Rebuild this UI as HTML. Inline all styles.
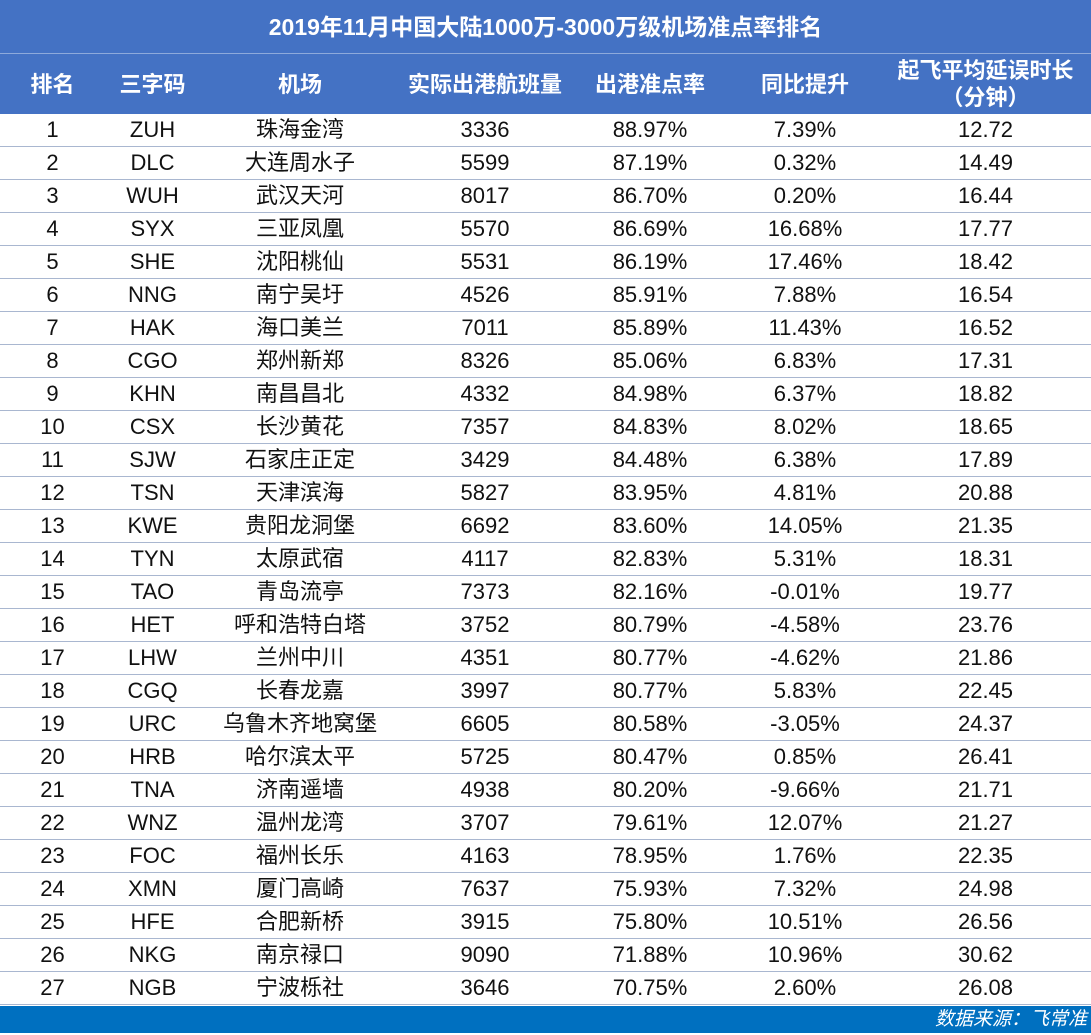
<!DOCTYPE html><html><head><meta charset="utf-8"><style>
body{margin:0;width:1091px;height:1035px;background:#fff;font-family:"Liberation Sans","Noto Sans CJK SC",sans-serif;overflow:hidden}
.t{position:absolute;left:0;top:0;width:1091px;height:54px;background:#4472c4;color:#fff;font-weight:bold;font-size:23px;text-align:center;line-height:54px;border-bottom:1px solid #8eaadb;box-sizing:border-box}
table{position:absolute;left:0;top:54px;width:1091px;border-collapse:collapse;table-layout:fixed}
th{background:#4472c4;color:#fff;font-size:22px;font-weight:bold;height:60px;padding:0;line-height:27px}
td{height:32px;padding:0;text-align:center;font-size:22px;color:#111;border-bottom:1px solid #a9b7d0;line-height:32px}
.f{position:absolute;left:0;top:1006px;width:1091px;height:27px;background:#0070c0;color:#fff;font-style:italic;font-size:19px;text-align:right;line-height:27px;box-sizing:border-box;padding-right:4px}
</style></head><body>
<div class="t">2019年11月中国大陆1000万-3000万级机场准点率排名</div>
<table><colgroup><col style="width:105px"><col style="width:95px"><col style="width:200px"><col style="width:170px"><col style="width:160px"><col style="width:150px"><col style="width:211px"></colgroup>
<tr><th>排名</th><th>三字码</th><th>机场</th><th>实际出港航班量</th><th>出港准点率</th><th>同比提升</th><th>起飞平均延误时长<br>（分钟）</th></tr>
<tr><td>1</td><td>ZUH</td><td>珠海金湾</td><td>3336</td><td>88.97%</td><td>7.39%</td><td>12.72</td></tr>
<tr><td>2</td><td>DLC</td><td>大连周水子</td><td>5599</td><td>87.19%</td><td>0.32%</td><td>14.49</td></tr>
<tr><td>3</td><td>WUH</td><td>武汉天河</td><td>8017</td><td>86.70%</td><td>0.20%</td><td>16.44</td></tr>
<tr><td>4</td><td>SYX</td><td>三亚凤凰</td><td>5570</td><td>86.69%</td><td>16.68%</td><td>17.77</td></tr>
<tr><td>5</td><td>SHE</td><td>沈阳桃仙</td><td>5531</td><td>86.19%</td><td>17.46%</td><td>18.42</td></tr>
<tr><td>6</td><td>NNG</td><td>南宁吴圩</td><td>4526</td><td>85.91%</td><td>7.88%</td><td>16.54</td></tr>
<tr><td>7</td><td>HAK</td><td>海口美兰</td><td>7011</td><td>85.89%</td><td>11.43%</td><td>16.52</td></tr>
<tr><td>8</td><td>CGO</td><td>郑州新郑</td><td>8326</td><td>85.06%</td><td>6.83%</td><td>17.31</td></tr>
<tr><td>9</td><td>KHN</td><td>南昌昌北</td><td>4332</td><td>84.98%</td><td>6.37%</td><td>18.82</td></tr>
<tr><td>10</td><td>CSX</td><td>长沙黄花</td><td>7357</td><td>84.83%</td><td>8.02%</td><td>18.65</td></tr>
<tr><td>11</td><td>SJW</td><td>石家庄正定</td><td>3429</td><td>84.48%</td><td>6.38%</td><td>17.89</td></tr>
<tr><td>12</td><td>TSN</td><td>天津滨海</td><td>5827</td><td>83.95%</td><td>4.81%</td><td>20.88</td></tr>
<tr><td>13</td><td>KWE</td><td>贵阳龙洞堡</td><td>6692</td><td>83.60%</td><td>14.05%</td><td>21.35</td></tr>
<tr><td>14</td><td>TYN</td><td>太原武宿</td><td>4117</td><td>82.83%</td><td>5.31%</td><td>18.31</td></tr>
<tr><td>15</td><td>TAO</td><td>青岛流亭</td><td>7373</td><td>82.16%</td><td>-0.01%</td><td>19.77</td></tr>
<tr><td>16</td><td>HET</td><td>呼和浩特白塔</td><td>3752</td><td>80.79%</td><td>-4.58%</td><td>23.76</td></tr>
<tr><td>17</td><td>LHW</td><td>兰州中川</td><td>4351</td><td>80.77%</td><td>-4.62%</td><td>21.86</td></tr>
<tr><td>18</td><td>CGQ</td><td>长春龙嘉</td><td>3997</td><td>80.77%</td><td>5.83%</td><td>22.45</td></tr>
<tr><td>19</td><td>URC</td><td>乌鲁木齐地窝堡</td><td>6605</td><td>80.58%</td><td>-3.05%</td><td>24.37</td></tr>
<tr><td>20</td><td>HRB</td><td>哈尔滨太平</td><td>5725</td><td>80.47%</td><td>0.85%</td><td>26.41</td></tr>
<tr><td>21</td><td>TNA</td><td>济南遥墙</td><td>4938</td><td>80.20%</td><td>-9.66%</td><td>21.71</td></tr>
<tr><td>22</td><td>WNZ</td><td>温州龙湾</td><td>3707</td><td>79.61%</td><td>12.07%</td><td>21.27</td></tr>
<tr><td>23</td><td>FOC</td><td>福州长乐</td><td>4163</td><td>78.95%</td><td>1.76%</td><td>22.35</td></tr>
<tr><td>24</td><td>XMN</td><td>厦门高崎</td><td>7637</td><td>75.93%</td><td>7.32%</td><td>24.98</td></tr>
<tr><td>25</td><td>HFE</td><td>合肥新桥</td><td>3915</td><td>75.80%</td><td>10.51%</td><td>26.56</td></tr>
<tr><td>26</td><td>NKG</td><td>南京禄口</td><td>9090</td><td>71.88%</td><td>10.96%</td><td>30.62</td></tr>
<tr><td>27</td><td>NGB</td><td>宁波栎社</td><td>3646</td><td>70.75%</td><td>2.60%</td><td>26.08</td></tr>
</table>
<div class="f">数据来源：飞常准</div>
</body></html>
